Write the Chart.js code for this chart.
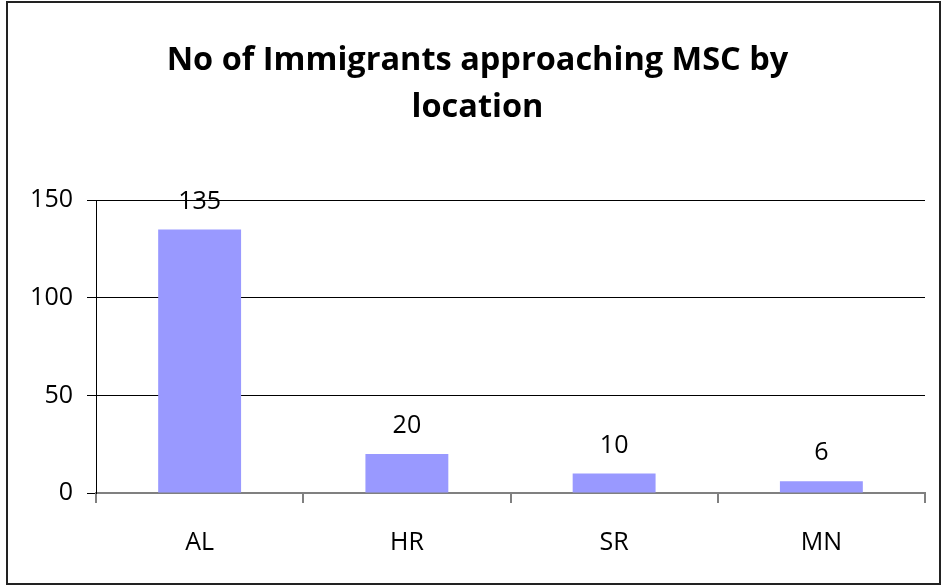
<!DOCTYPE html>
<html>
<head>
<meta charset="utf-8">
<script src="https://cdn.jsdelivr.net/npm/chart.js@4"></script>
<style>
    body { margin: 0; background: #fff; }
    #wrap { position: relative; width: 942px; height: 585px; }
    #frame { position: absolute; left: 6px; top: 1px; width: 931px; height: 580px; border: 2px solid #222; }
    #chart { position: absolute; left: 0; top: 0; }
</style>
</head>
<body>
<div id="wrap">
    <div id="frame"></div>
    <canvas id="chart" width="942" height="585"></canvas>
</div>
<script>
const locations = ['AL', 'HR', 'SR', 'MN'];
const immigrants = [135, 20, 10, 6];
const yTicks = [0, 50, 100, 150];

const FONT = 'Open Sans';

// value labels above each bar
const barLabels = {
    id: 'barLabels',
    afterDatasetsDraw(chart) {
        const ctx = chart.ctx;
        const meta = chart.getDatasetMeta(0);
        ctx.save();
        ctx.font = `25px "${FONT}"`;
        ctx.fillStyle = '#000';
        ctx.textAlign = 'center';
        ctx.textBaseline = 'middle';
        meta.data.forEach((bar, i) => {
            ctx.fillText(immigrants[i], bar.x, bar.y - 28);
        });
        ctx.restore();
    }
};

const ctx = document.getElementById('chart').getContext('2d');
new Chart(ctx, {
    type: 'bar',
    data: {
        labels: locations,
        datasets: [{
            data: immigrants,
            backgroundColor: '#9999ff',
            borderWidth: 0,
            barPercentage: 0.4,
            categoryPercentage: 1
        }]
    },
    options: {
        responsive: false,
        animation: false,
        layout: { padding: { left: 30, right: 17, top: 0, bottom: 0 } },
        plugins: {
            legend: { display: false },
            tooltip: { enabled: false },
            title: {
                display: true,
                text: ['No of Immigrants approaching MSC by', 'location'],
                color: '#000',
                font: { family: FONT, size: 32.5, weight: 'bold', lineHeight: 1.45 },
                padding: { top: 37, bottom: 69 }
            }
        },
        scales: {
            x: {
                grid: {
                    offset: true,
                    drawOnChartArea: false,
                    color: '#808080',
                    tickLength: 10,
                    lineWidth: 2
                },
                border: { color: '#808080', width: 2 },
                ticks: {
                    color: '#000',
                    padding: 25,
                    font: { family: FONT, size: 25 }
                },
                afterFit(scale) { scale.height = 92; }
            },
            y: {
                min: 0,
                max: 150,
                afterBuildTicks(scale) { scale.ticks = yTicks.map(v => ({ value: v })); },
                grid: { color: '#000', tickLength: 9, lineWidth: 1 },
                border: { color: '#000', width: 1 },
                ticks: {
                    color: '#000',
                    padding: 14,
                    font: { family: FONT, size: 25 }
                },
                afterFit(scale) { scale.width = 66; }
            }
        }
    },
    plugins: [barLabels]
});
</script>
</body>
</html>
